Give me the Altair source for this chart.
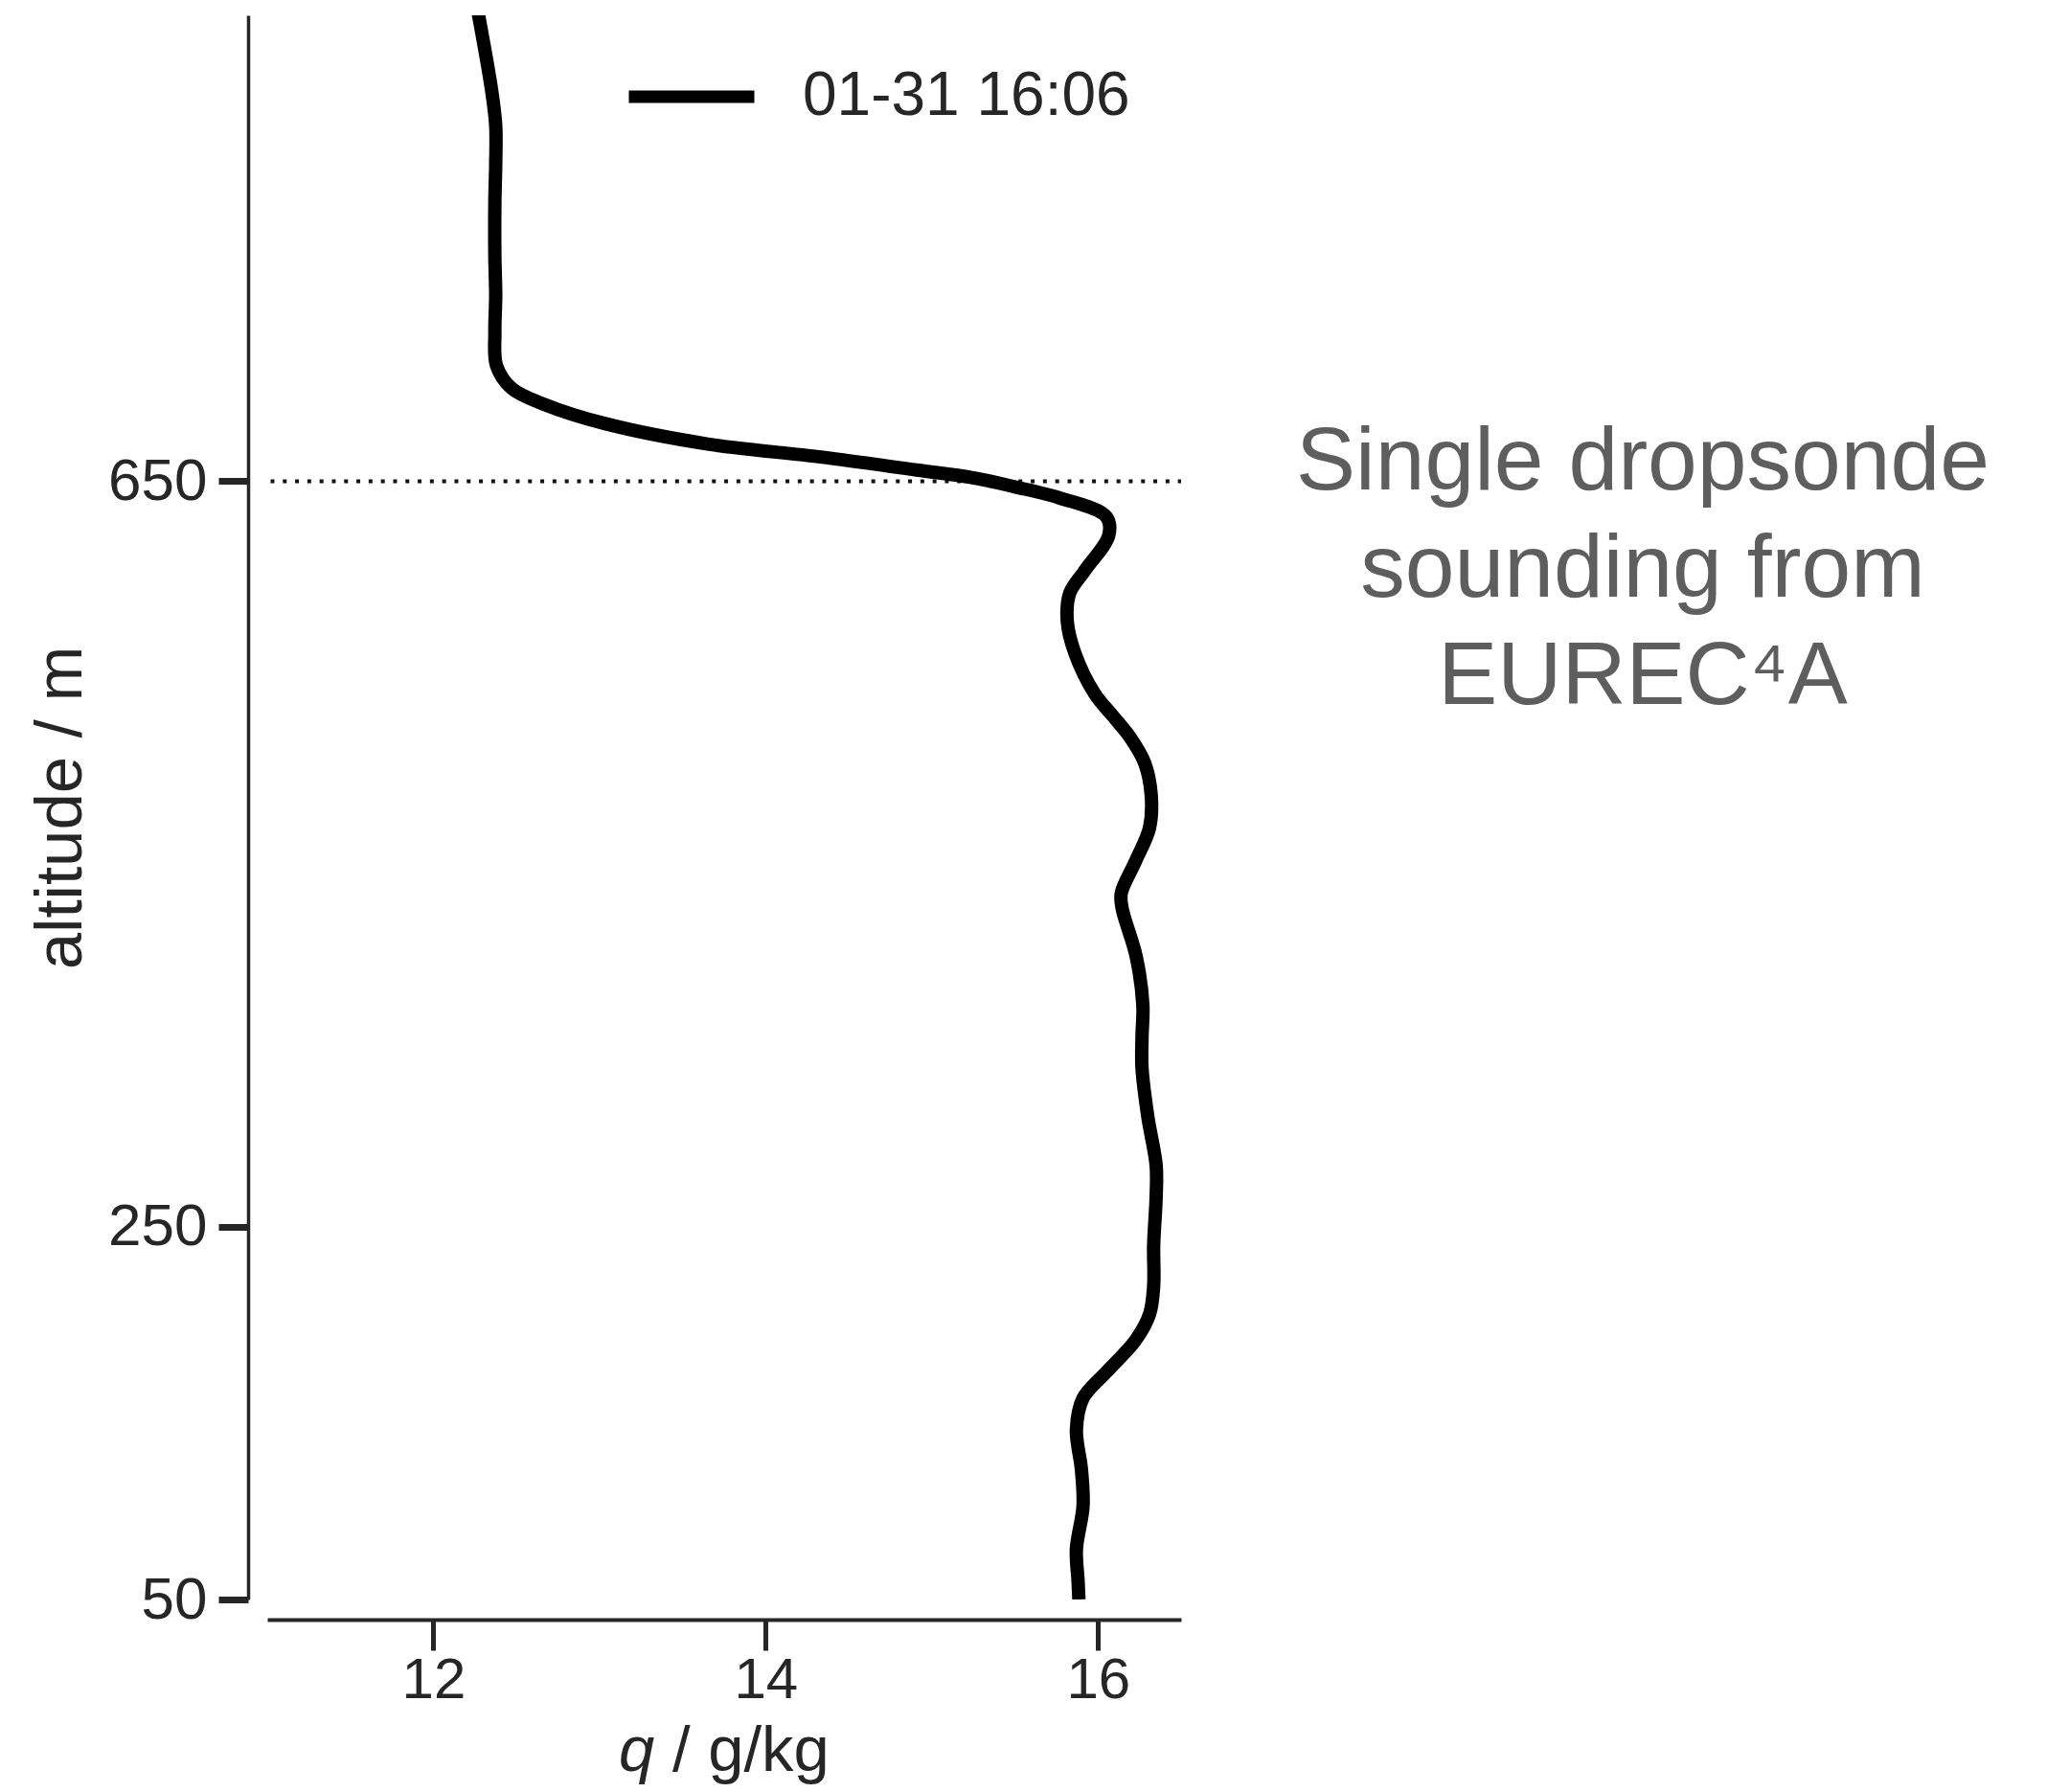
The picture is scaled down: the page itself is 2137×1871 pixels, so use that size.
import altair as alt
import pandas as pd

# Specific humidity profile of one dropsonde (EUREC4A, 31 Jan 16:06)
altitude_m = [901, 860, 841, 820, 800, 770, 750, 730, 712, 700,
              691, 681, 670, 663, 656, 652, 647, 641, 631, 621,
              602, 590, 575, 558, 536, 524, 513, 499, 482, 464,
              446, 429, 421, 395, 369, 352, 335, 309, 283, 266,
              240, 218, 203, 189, 172, 158, 141, 120, 100, 77,
              60, 50]
q_gkg = [12.27, 12.35, 12.375, 12.375, 12.37, 12.37, 12.375, 12.37, 12.38, 12.47,
         12.675, 13.03, 13.65, 14.33, 14.91, 15.24, 15.50, 15.77, 16.05, 16.065,
         15.92, 15.83, 15.815, 15.86, 15.98, 16.09, 16.19, 16.28, 16.32, 16.31,
         16.225, 16.14, 16.145, 16.23, 16.27, 16.265, 16.265, 16.30, 16.35, 16.35,
         16.335, 16.335, 16.31, 16.225, 16.05, 15.91, 15.87, 15.90, 15.91, 15.87,
         15.88, 15.885]
sonde_label = "01-31 16:06"

x_ticks = [12, 14, 16]
y_ticks = [50, 250, 650]
inversion_alt = [650]
inversion_q = [11.02, 16.5]

note_lines = ["Single dropsonde", "sounding from", "EUREC\u2074A"]

FONT = "Liberation Sans"
INK = "#262626"
W, H = 954, 1654

df = pd.DataFrame({"q": q_gkg, "alt": altitude_m, "sonde": sonde_label})
rule_df = pd.DataFrame({"q0": [inversion_q[0]], "q1": [inversion_q[1]], "alt": inversion_alt})

x_scale = alt.Scale(domain=[11, 16.5], nice=False, zero=False)
y_scale = alt.Scale(domain=[50, 900], nice=False, zero=False)

profile = alt.Chart(df).mark_line(
    strokeWidth=14, clip=True, interpolate="catmull-rom", strokeJoin="round"
).encode(
    x=alt.X("q:Q", scale=x_scale, axis=alt.Axis(
        values=x_ticks, title=None, offset=21, grid=False,
        domainColor=INK, domainWidth=4, tickColor=INK, tickWidth=5, tickSize=32,
        labelFont=FONT, labelFontSize=60, labelColor=INK, labelPadding=2, format="d")),
    y=alt.Y("alt:Q", scale=y_scale, axis=alt.Axis(
        values=y_ticks, title="altitude / m", offset=20, grid=False,
        domainColor=INK, domainWidth=3.5, tickColor=INK, tickWidth=7, tickSize=31,
        labelFont=FONT, labelFontSize=62, labelColor=INK, labelPadding=12, format="d",
        titleFont=FONT, titleFontSize=69, titleColor=INK, titleFontWeight="normal",
        titlePadding=14)),
    order=alt.Order("alt:Q", sort="descending"),
    color=alt.Color("sonde:N", scale=alt.Scale(range=["black"]), legend=alt.Legend(
        title=None, orient="none", legendX=371, legendY=13, padding=0,
        symbolType="stroke", symbolSize=17161, symbolStrokeWidth=13,
        symbolStrokeColor="black", labelLimit=0,
        labelFont=FONT, labelFontSize=64, labelColor=INK, labelOffset=44)),
)

inversion = alt.Chart(rule_df).mark_rule(
    strokeDash=[4, 8.8], strokeWidth=4, color="#111111"
).encode(x="q0:Q", x2="q1:Q", y="alt:Q")

# x-axis title with an italic symbol
title_q = alt.Chart(pd.DataFrame({"t": ["q"]})).mark_text(
    font=FONT, fontSize=67, fontStyle="italic", color=INK, align="left", baseline="alphabetic"
).encode(text="t:N", x=alt.value(367), y=alt.value(1833))
title_unit = alt.Chart(pd.DataFrame({"t": ["/ g/kg"]})).mark_text(
    font=FONT, fontSize=67, color=INK, align="left", baseline="alphabetic"
).encode(text="t:N", x=alt.value(423), y=alt.value(1833))

note = alt.Chart(pd.DataFrame({"t": ["\n".join(note_lines)]})).mark_text(
    font=FONT, fontSize=93, color="#5e5e5e", align="center", baseline="top",
    lineBreak="\n", lineHeight=112
).encode(text="t:N", x=alt.value(1436), y=alt.value(422))

chart = alt.layer(inversion, profile, title_q, title_unit, note).properties(
    width=W, height=H,
    autosize=alt.AutoSizeParams(type="none"),
    padding={"left": 279, "top": 16, "right": 904, "bottom": 201},
    background="white",
).configure_view(stroke=None)

chart.save("out.html", embed_options={"renderer": "svg", "actions": False})
